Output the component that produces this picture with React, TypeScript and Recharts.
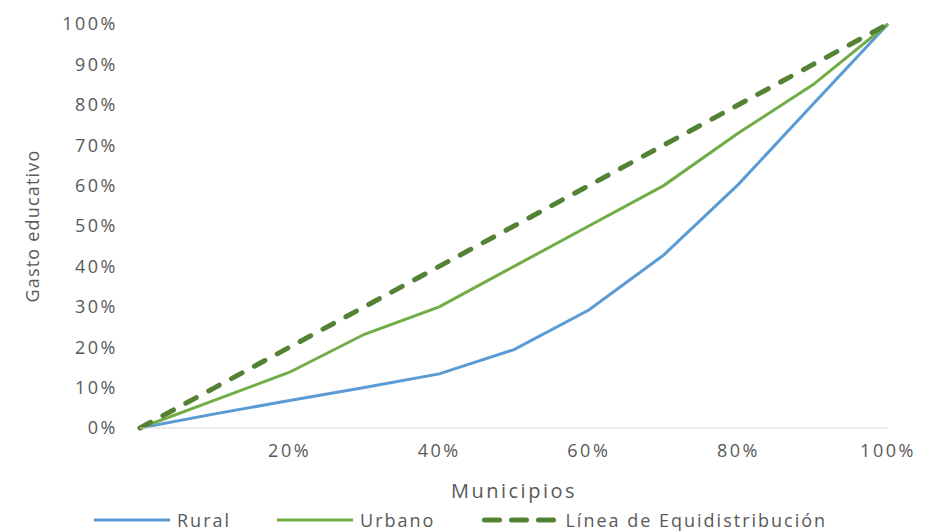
import React from 'react';
import { LineChart, Line, XAxis, YAxis, Legend } from 'recharts';

// share of municipios (x) vs share of gasto educativo (y), in %
const municipios = [0, 10, 20, 30, 40, 50, 60, 70, 80, 90, 100];
const rural = [0, 3.5, 6.8, 10, 13.4, 19.4, 29.2, 42.8, 60.3, 80.2, 100];
const urbano = [0, 6.9, 13.8, 23.2, 30, 40, 50, 60, 73, 85, 100];
const equidistribucion = [0, 10, 20, 30, 40, 50, 60, 70, 80, 90, 100];

const xTicks = [20, 40, 60, 80, 100];
const yTicks = [0, 10, 20, 30, 40, 50, 60, 70, 80, 90, 100];

const data = municipios.map((x, i) => ({
  x,
  rural: rural[i],
  urbano: urbano[i],
  equi: equidistribucion[i],
}));

const FONT = '"Open Sans", sans-serif';
const GREY = '#595959';
const BLUE = '#5B9BD5';
const GREEN = '#70AD47';
const DARK_GREEN = '#548235';

const tickStyle = { fill: GREY, fontSize: 18, fontFamily: FONT, letterSpacing: 2.5 };

const YLabel = (props: any) => {
  const { viewBox } = props;
  const cy = viewBox.y + viewBox.height / 2;
  const cx = 24;
  return (
    <text
      x={cx}
      y={cy}
      transform={`rotate(-90, ${cx}, ${cy})`}
      textAnchor="middle"
      dominantBaseline="central"
      fill={GREY}
      fontSize={18}
      fontFamily={FONT}
      letterSpacing={1.2}
    >
      Gasto educativo
    </text>
  );
};

const LegendItem: React.FC<{
  color: string;
  label: string;
  dashed?: boolean;
  gap: number;
}> = ({ color, label, dashed, gap }) => (
  <div style={{ display: 'flex', alignItems: 'center', marginRight: gap }}>
    <svg width={76} height={10} style={{ marginRight: 7 }}>
      {dashed ? (
        <line
          x1={2.5}
          y1={5}
          x2={73}
          y2={5}
          stroke={color}
          strokeWidth={5}
          strokeDasharray="15 12"
          strokeLinecap="round"
        />
      ) : (
        <line x1={0} y1={5} x2={76} y2={5} stroke={color} strokeWidth={3} />
      )}
    </svg>
    <span>{label}</span>
  </div>
);

const renderLegend = () => (
  <div
    style={{
      display: 'flex',
      alignItems: 'center',
      paddingLeft: 86,
      fontFamily: FONT,
      fontSize: 18,
      letterSpacing: 2,
      color: GREY,
      height: 24,
    }}
  >
    <LegendItem color={BLUE} label="Rural" gap={46} />
    <LegendItem color={GREEN} label="Urbano" gap={47} />
    <LegendItem color={DARK_GREEN} label="Línea de Equidistribución" dashed gap={0} />
  </div>
);

export default function App() {
  return (
    <LineChart
      width={925}
      height={524}
      data={data}
      margin={{ top: 16, right: 45, left: 0, bottom: 0 }}
    >
      <XAxis
        dataKey="x"
        type="number"
        domain={[0, 100]}
        ticks={xTicks}
        tickFormatter={(v) => `${v}%`}
        tick={tickStyle}
        axisLine={{ stroke: '#d9d9d9' }}
        tickLine={false}
        tickMargin={10}
        height={80}
        label={{
          value: 'Municipios',
          position: 'insideBottom',
          offset: 10,
          fill: GREY,
          fontSize: 20,
          fontFamily: FONT,
          letterSpacing: 2.5,
        }}
      />
      <YAxis
        type="number"
        domain={[0, 100]}
        ticks={yTicks}
        tickFormatter={(v) => `${v}%`}
        tick={tickStyle}
        axisLine={false}
        tickLine={false}
        tickMargin={16}
        width={132}
        label={<YLabel />}
      />
      <Legend verticalAlign="bottom" content={renderLegend} />
      <Line
        type="linear"
        dataKey="rural"
        stroke={BLUE}
        strokeWidth={3}
        dot={false}
        isAnimationActive={false}
      />
      <Line
        type="linear"
        dataKey="urbano"
        stroke={GREEN}
        strokeWidth={3}
        dot={false}
        isAnimationActive={false}
      />
      <Line
        type="linear"
        dataKey="equi"
        stroke={DARK_GREEN}
        strokeWidth={5}
        strokeDasharray="12 14"
        strokeLinecap="round"
        dot={false}
        isAnimationActive={false}
      />
    </LineChart>
  );
}
